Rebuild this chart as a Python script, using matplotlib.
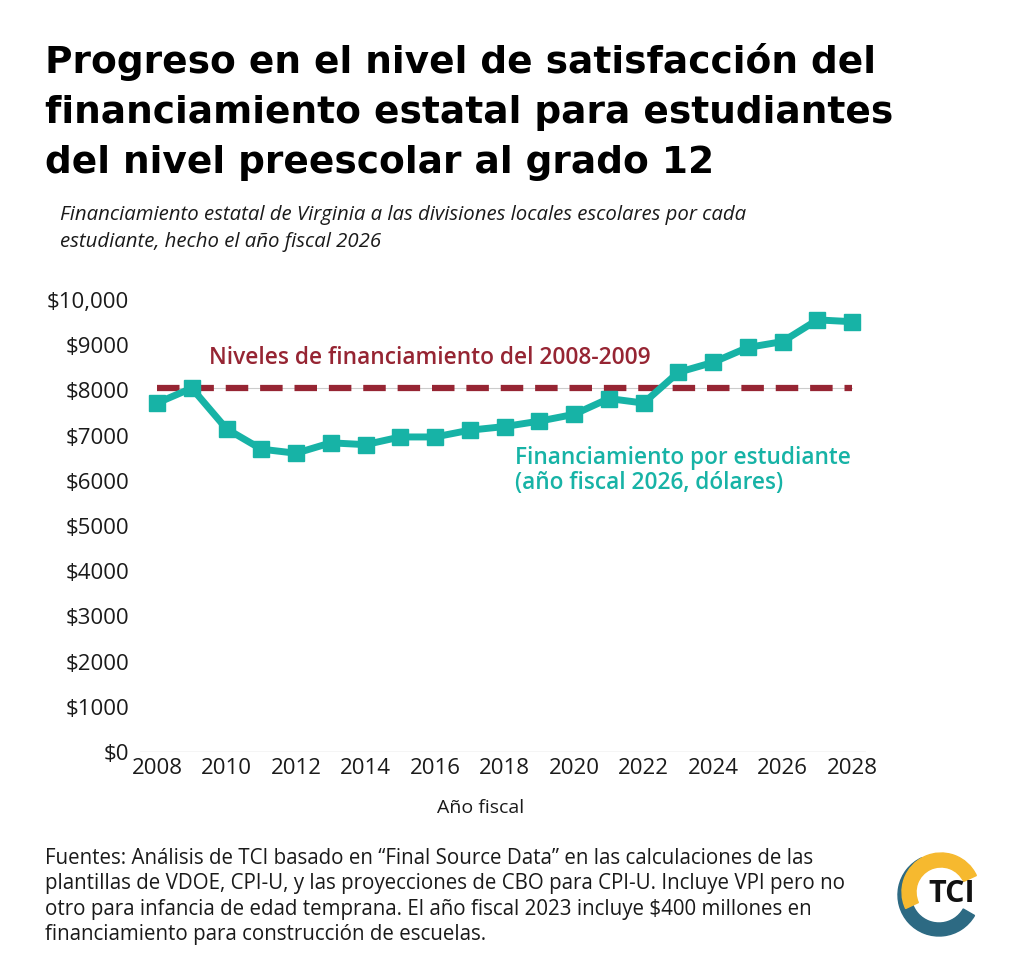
import matplotlib
matplotlib.use("Agg")
import matplotlib.pyplot as plt
from matplotlib.patches import Wedge

plt.rcParams['font.family'] = ['Open Sans', 'DejaVu Sans']

years = list(range(2008, 2029))
funding = [7720, 8050, 7150, 6700, 6610, 6840, 6800, 6970, 6970, 7120, 7200,
           7320, 7470, 7820, 7720, 8400, 8620, 8950, 9080, 9560, 9520]
baseline_level = 8050
yticks = list(range(0, 10001, 1000))
ytick_labels = ["$0", "$1000", "$2000", "$3000", "$4000", "$5000", "$6000",
                "$7000", "$8000", "$9000", "$10,000"]
xticks = list(range(2008, 2029, 2))

title = ("Progreso en el nivel de satisfacción del\n"
         "financiamiento estatal para estudiantes\n"
         "del nivel preescolar al grado 12")
subtitle = ("Financiamiento estatal de Virginia a las divisiones locales escolares por cada\n"
            "estudiante, hecho el año fiscal 2026")
footnote = ("Fuentes: Análisis de TCI basado en “Final Source Data” en las calculaciones de las\n"
            "plantillas de VDOE, CPI-U, y las proyecciones de CBO para CPI-U. Incluye VPI pero no\n"
            "otro para infancia de edad temprana. El año fiscal 2023 incluye $400 millones en\n"
            "financiamiento para construcción de escuelas.")

teal = "#17b3a6"
red = "#962533"
W, H = 1024, 969
fig = plt.figure(figsize=(W/100, H/100), dpi=100)

ax = fig.add_axes([140/W, 1-752/H, 726/W, 452/H])
for s in ax.spines.values():
    s.set_visible(False)
ax.axhline(0, color="#d0d0d0", lw=1.0, zorder=1)
ax.plot([years[0], years[-1]], [baseline_level, baseline_level], color="#cccccc", lw=0.8, zorder=1)
ax.plot([years[0], years[-1]], [baseline_level, baseline_level], color=red, lw=4.5,
        dashes=(3.6, 1.9), zorder=2)
ax.plot(years, funding, color=teal, lw=5, marker="s", markersize=11.5, zorder=3)
ax.set_xlim(2007.51, 2028.4)
ax.set_ylim(0, 10000)
ax.set_yticks(yticks)
ax.set_yticklabels(ytick_labels)
ax.set_xticks(xticks)
ax.tick_params(length=0, labelsize=16, colors="#1a1a1a")
ax.tick_params(axis='y', pad=8)
ax.tick_params(axis='x', pad=4)

fig.text(481/W, 1-808/H, "Año fiscal", fontsize=14, color="#1a1a1a", ha="center", va="center")

ax.text(2009.5, 8720, "Niveles de financiamiento del 2008-2009", color=red,
        fontsize=16.4, fontweight="semibold", va="center", ha="left")
ax.text(2018.3, 6230, "Financiamiento por estudiante\n(año fiscal 2026, dólares)",
        color=teal, fontsize=16.3, fontweight="semibold", va="center", ha="left",
        linespacing=1.1)

fig.text(45/W, 1-43/H, title, fontsize=27, fontweight="bold", va="top", ha="left",
         color="black", linespacing=1.5, family="DejaVu Sans")
fig.text(60/W, 1-205/H, subtitle, fontsize=14.7, style="italic", va="top", ha="left",
         color="#1a1a1a", linespacing=1.45)
fig.text(45/W, 1-848/H, footnote, fontsize=14.8, va="top", ha="left",
         color="#1a1a1a", linespacing=1.27)

# logo
lax = fig.add_axes([890/W, 1-943/H, 100/W, 100/H])
lax.set_xlim(-50, 50)
lax.set_ylim(-50, 50)
lax.set_aspect("equal")
lax.axis("off")
lax.add_patch(Wedge((-1, -2), 41, 115, 330, width=13, color="#2d6a83"))
lax.add_patch(Wedge((1, 1), 39, 25, 205, width=14, color="#f6b92f"))
lax.text(12, -1, "TCI", fontsize=22, fontweight="bold", ha="center", va="center", color="#111111")

fig.savefig("out.png", dpi=100)
